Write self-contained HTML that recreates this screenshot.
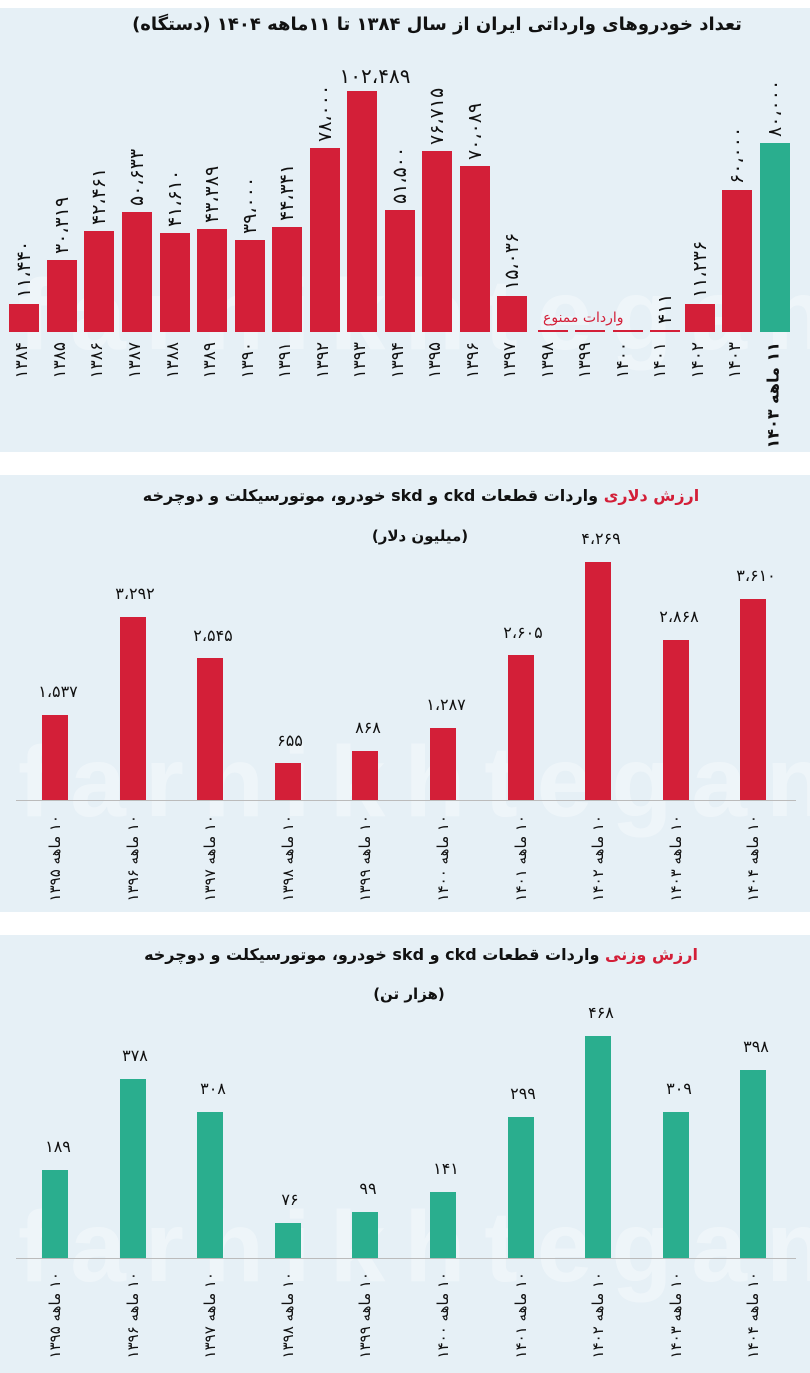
<!DOCTYPE html>
<html><head><meta charset="utf-8">
<style>
*{margin:0;padding:0;box-sizing:border-box}
body{width:810px;height:1373px;background:#fff;position:relative;overflow:hidden;font-family:"DejaVu Sans","Liberation Sans",sans-serif;color:#111}
.p{position:absolute;left:0;width:810px;background:#e6f0f6;overflow:hidden}
.wm{position:absolute;left:18px;font-family:"Liberation Sans",sans-serif;font-weight:bold;color:#fff;opacity:.35;font-size:100px;letter-spacing:19px;white-space:nowrap}
.b{position:absolute;background:#d31f38}
.g{background:#2aae8e}
.v,.y{position:absolute;white-space:nowrap;transform-origin:0 0;font-size:19px;letter-spacing:3px}
.v{transform:rotate(-90deg) translate(0,-50%)}
.y{transform:rotate(-90deg) translate(-100%,-50%);font-size:15px}
.y1{font-size:17px;letter-spacing:4px}
.h{position:absolute;white-space:nowrap;transform:translate(-50%,-100%);font-size:16px}
.t{position:absolute;width:810px;text-align:center;font-weight:bold;font-size:16px;direction:rtl}
.red{color:#d31f38}
.d{position:absolute;height:2px;background:#d31f38;top:330px;width:30px}
.ln{position:absolute;left:16px;width:780px;height:1px;background:#bbb}
</style></head><body>

<!-- Panel 1 -->
<div class="p" style="top:8px;height:444px">
<div class="wm" style="top:250px">farhikhtegan</div>
</div>
<div class="t" style="top:14px;left:32px;font-size:18px">تعداد خودروهای وارداتی ایران از سال ۱۳۸۴ تا ۱۱ماهه ۱۴۰۴ (دستگاه)</div>

<div class="b" style="left:9px;top:304px;width:30px;height:28px"></div>
<div class="b" style="left:47px;top:260px;width:30px;height:72px"></div>
<div class="b" style="left:84px;top:231px;width:30px;height:101px"></div>
<div class="b" style="left:122px;top:212px;width:30px;height:120px"></div>
<div class="b" style="left:160px;top:233px;width:30px;height:99px"></div>
<div class="b" style="left:197px;top:229px;width:30px;height:103px"></div>
<div class="b" style="left:235px;top:240px;width:30px;height:92px"></div>
<div class="b" style="left:272px;top:227px;width:30px;height:105px"></div>
<div class="b" style="left:310px;top:148px;width:30px;height:184px"></div>
<div class="b" style="left:347px;top:91px;width:30px;height:241px"></div>
<div class="b" style="left:385px;top:210px;width:30px;height:122px"></div>
<div class="b" style="left:422px;top:151px;width:30px;height:181px"></div>
<div class="b" style="left:460px;top:166px;width:30px;height:166px"></div>
<div class="b" style="left:497px;top:296px;width:30px;height:36px"></div>
<div class="d" style="left:538px"></div>
<div class="d" style="left:575px"></div>
<div class="d" style="left:613px"></div>
<div class="d" style="left:650px"></div>
<div class="b" style="left:685px;top:304px;width:30px;height:28px"></div>
<div class="b" style="left:722px;top:190px;width:30px;height:142px"></div>
<div class="b g" style="left:760px;top:143px;width:30px;height:189px"></div>
<div style="position:absolute;left:543px;top:310px;font-size:14px;color:#d31f38;direction:rtl;white-space:nowrap">واردات ممنوع</div>

<div class="v" style="left:24px;top:298px">۱۱،۴۴۰</div>
<div class="v" style="left:62px;top:254px">۳۰،۳۱۹</div>
<div class="v" style="left:99px;top:225px">۴۲،۴۶۱</div>
<div class="v" style="left:137px;top:206px">۵۰،۶۳۳</div>
<div class="v" style="left:175px;top:227px">۴۱،۶۱۰</div>
<div class="v" style="left:212px;top:223px">۴۳،۳۸۹</div>
<div class="v" style="left:250px;top:234px">۳۹،۰۰۰</div>
<div class="v" style="left:287px;top:221px">۴۴،۳۴۱</div>
<div class="v" style="left:325px;top:142px">۷۸،۰۰۰</div>
<div class="h" style="left:375px;top:88px;font-size:20px;letter-spacing:1px">۱۰۲،۴۸۹</div>
<div class="v" style="left:400px;top:204px">۵۱،۵۰۰</div>
<div class="v" style="left:437px;top:145px">۷۶،۷۱۵</div>
<div class="v" style="left:475px;top:160px">۷۰،۰۸۹</div>
<div class="v" style="left:512px;top:290px">۱۵،۰۳۶</div>
<div class="v" style="left:665px;top:324px">۴۱۱</div>
<div class="v" style="left:700px;top:298px">۱۱،۲۳۶</div>
<div class="v" style="left:737px;top:184px">۶۰،۰۰۰</div>
<div class="v" style="left:775px;top:137px">۸۰،۰۰۰</div>

<div class="y y1" style="left:22px;top:342px">۱۳۸۴</div>
<div class="y y1" style="left:60px;top:342px">۱۳۸۵</div>
<div class="y y1" style="left:97px;top:342px">۱۳۸۶</div>
<div class="y y1" style="left:135px;top:342px">۱۳۸۷</div>
<div class="y y1" style="left:173px;top:342px">۱۳۸۸</div>
<div class="y y1" style="left:210px;top:342px">۱۳۸۹</div>
<div class="y y1" style="left:248px;top:342px">۱۳۹۰</div>
<div class="y y1" style="left:285px;top:342px">۱۳۹۱</div>
<div class="y y1" style="left:323px;top:342px">۱۳۹۲</div>
<div class="y y1" style="left:360px;top:342px">۱۳۹۳</div>
<div class="y y1" style="left:398px;top:342px">۱۳۹۴</div>
<div class="y y1" style="left:435px;top:342px">۱۳۹۵</div>
<div class="y y1" style="left:473px;top:342px">۱۳۹۶</div>
<div class="y y1" style="left:510px;top:342px">۱۳۹۷</div>
<div class="y y1" style="left:548px;top:342px">۱۳۹۸</div>
<div class="y y1" style="left:585px;top:342px">۱۳۹۹</div>
<div class="y y1" style="left:623px;top:342px">۱۴۰۰</div>
<div class="y y1" style="left:660px;top:342px">۱۴۰۱</div>
<div class="y y1" style="left:698px;top:342px">۱۴۰۲</div>
<div class="y y1" style="left:735px;top:342px">۱۴۰۳</div>
<div class="y" style="left:773px;top:342px;direction:rtl;font-weight:bold;font-size:16px;letter-spacing:1px">۱۱ ماهه ۱۴۰۳</div>

<!-- Panel 2 -->
<div class="p" style="top:475px;height:437px">
<div class="wm" style="top:250px">farhikhtegan</div>
</div>
<div class="t" style="top:486px;left:16px"><span class="red">ارزش دلاری</span> واردات قطعات ckd و skd خودرو، موتورسیکلت و دوچرخه</div>
<div class="t" style="top:527px;left:15px;font-size:15px">(میلیون دلار)</div>
<div class="ln" style="top:800px"></div>
<div class="b" style="left:42px;top:715px;width:26px;height:85px"></div>
<div class="b" style="left:120px;top:617px;width:26px;height:183px"></div>
<div class="b" style="left:197px;top:658px;width:26px;height:142px"></div>
<div class="b" style="left:275px;top:763px;width:26px;height:37px"></div>
<div class="b" style="left:352px;top:751px;width:26px;height:49px"></div>
<div class="b" style="left:430px;top:728px;width:26px;height:72px"></div>
<div class="b" style="left:508px;top:655px;width:26px;height:145px"></div>
<div class="b" style="left:585px;top:562px;width:26px;height:238px"></div>
<div class="b" style="left:663px;top:640px;width:26px;height:160px"></div>
<div class="b" style="left:740px;top:599px;width:26px;height:201px"></div>
<div class="h" style="left:58px;top:701px">۱،۵۳۷</div>
<div class="h" style="left:135px;top:603px">۳،۲۹۲</div>
<div class="h" style="left:213px;top:645px">۲،۵۴۵</div>
<div class="h" style="left:290px;top:750px">۶۵۵</div>
<div class="h" style="left:368px;top:737px">۸۶۸</div>
<div class="h" style="left:446px;top:714px">۱،۲۸۷</div>
<div class="h" style="left:523px;top:642px">۲،۶۰۵</div>
<div class="h" style="left:601px;top:548px">۴،۲۶۹</div>
<div class="h" style="left:679px;top:626px">۲،۸۶۸</div>
<div class="h" style="left:756px;top:585px">۳،۶۱۰</div>
<div class="y" style="left:55px;top:815px;direction:rtl">۱۰ ماهه ۱۳۹۵</div>
<div class="y" style="left:133px;top:815px;direction:rtl">۱۰ ماهه ۱۳۹۶</div>
<div class="y" style="left:210px;top:815px;direction:rtl">۱۰ ماهه ۱۳۹۷</div>
<div class="y" style="left:288px;top:815px;direction:rtl">۱۰ ماهه ۱۳۹۸</div>
<div class="y" style="left:365px;top:815px;direction:rtl">۱۰ ماهه ۱۳۹۹</div>
<div class="y" style="left:443px;top:815px;direction:rtl">۱۰ ماهه ۱۴۰۰</div>
<div class="y" style="left:521px;top:815px;direction:rtl">۱۰ ماهه ۱۴۰۱</div>
<div class="y" style="left:598px;top:815px;direction:rtl">۱۰ ماهه ۱۴۰۲</div>
<div class="y" style="left:676px;top:815px;direction:rtl">۱۰ ماهه ۱۴۰۳</div>
<div class="y" style="left:753px;top:815px;direction:rtl">۱۰ ماهه ۱۴۰۴</div>

<!-- Panel 3 -->
<div class="p" style="top:935px;height:438px">
<div class="wm" style="top:255px">farhikhtegan</div>
</div>
<div class="t" style="top:945px;left:16px"><span class="red">ارزش وزنی</span> واردات قطعات ckd و skd خودرو، موتورسیکلت و دوچرخه</div>
<div class="t" style="top:985px;left:4px;font-size:15px">(هزار تن)</div>
<div class="ln" style="top:1258px"></div>
<div class="b g" style="left:42px;top:1170px;width:26px;height:88px"></div>
<div class="b g" style="left:120px;top:1079px;width:26px;height:179px"></div>
<div class="b g" style="left:197px;top:1112px;width:26px;height:146px"></div>
<div class="b g" style="left:275px;top:1223px;width:26px;height:35px"></div>
<div class="b g" style="left:352px;top:1212px;width:26px;height:46px"></div>
<div class="b g" style="left:430px;top:1192px;width:26px;height:66px"></div>
<div class="b g" style="left:508px;top:1117px;width:26px;height:141px"></div>
<div class="b g" style="left:585px;top:1036px;width:26px;height:222px"></div>
<div class="b g" style="left:663px;top:1112px;width:26px;height:146px"></div>
<div class="b g" style="left:740px;top:1070px;width:26px;height:188px"></div>
<div class="h" style="left:58px;top:1156px">۱۸۹</div>
<div class="h" style="left:135px;top:1065px">۳۷۸</div>
<div class="h" style="left:213px;top:1098px">۳۰۸</div>
<div class="h" style="left:290px;top:1209px">۷۶</div>
<div class="h" style="left:368px;top:1198px">۹۹</div>
<div class="h" style="left:446px;top:1178px">۱۴۱</div>
<div class="h" style="left:523px;top:1103px">۲۹۹</div>
<div class="h" style="left:601px;top:1022px">۴۶۸</div>
<div class="h" style="left:679px;top:1098px">۳۰۹</div>
<div class="h" style="left:756px;top:1056px">۳۹۸</div>
<div class="y" style="left:55px;top:1272px;direction:rtl">۱۰ ماهه ۱۳۹۵</div>
<div class="y" style="left:133px;top:1272px;direction:rtl">۱۰ ماهه ۱۳۹۶</div>
<div class="y" style="left:210px;top:1272px;direction:rtl">۱۰ ماهه ۱۳۹۷</div>
<div class="y" style="left:288px;top:1272px;direction:rtl">۱۰ ماهه ۱۳۹۸</div>
<div class="y" style="left:365px;top:1272px;direction:rtl">۱۰ ماهه ۱۳۹۹</div>
<div class="y" style="left:443px;top:1272px;direction:rtl">۱۰ ماهه ۱۴۰۰</div>
<div class="y" style="left:521px;top:1272px;direction:rtl">۱۰ ماهه ۱۴۰۱</div>
<div class="y" style="left:598px;top:1272px;direction:rtl">۱۰ ماهه ۱۴۰۲</div>
<div class="y" style="left:676px;top:1272px;direction:rtl">۱۰ ماهه ۱۴۰۳</div>
<div class="y" style="left:753px;top:1272px;direction:rtl">۱۰ ماهه ۱۴۰۴</div>
</body></html>
